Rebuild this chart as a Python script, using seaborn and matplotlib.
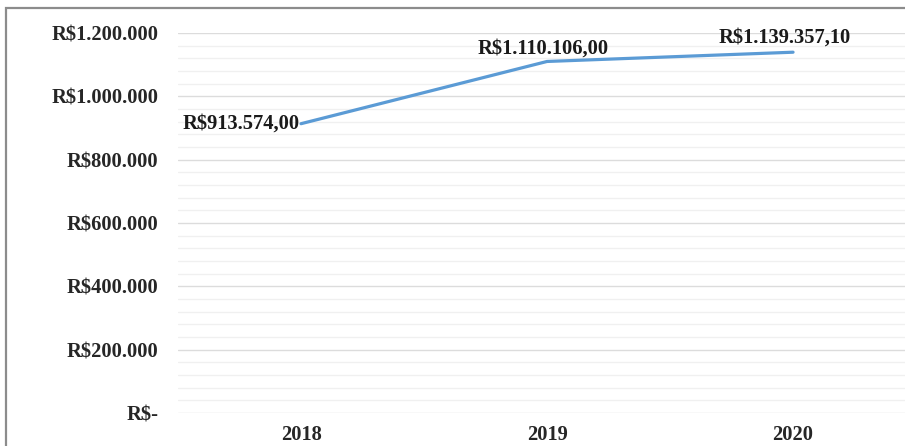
import matplotlib
matplotlib.use("Agg")
import matplotlib.pyplot as plt
from matplotlib.patches import Rectangle
from matplotlib.ticker import FuncFormatter, MultipleLocator
import pandas as pd
import seaborn as sns

# data
anos = ["2018", "2019", "2020"]
valores = [913574.00, 1110106.00, 1139357.10]

sns.set_theme(style="white")
plt.rcParams["font.family"] = ["Liberation Serif", "DejaVu Serif"]
plt.rcParams["font.weight"] = "bold"


def brl(v, decimals=0):
    s = f"{v:,.{decimals}f}"
    s = s.replace(",", "#").replace(".", ",").replace("#", ".")
    return "R$" + s


def fmt_tick(v, pos):
    if abs(v) < 1:
        return "R$-"
    return brl(v)


df = pd.DataFrame({"ano": anos, "valor": valores})

W, H = 905, 446
fig = plt.figure(figsize=(W / 100, H / 100), dpi=100)
left, right_px = 178, 905
bottom_px, top_px = 413, 33
ax = fig.add_axes([left / W, (H - bottom_px) / H, (right_px - left) / W,
                   (bottom_px - top_px) / H])

sns.lineplot(data=df, x="ano", y="valor", ax=ax, color="#5B9BD5",
             linewidth=2.3, sort=False)

ax.set_ylim(0, 1200000)
ax.set_xlim(-0.5, 2.455)
ax.yaxis.set_major_locator(MultipleLocator(200000))
ax.yaxis.set_minor_locator(MultipleLocator(40000))
ax.yaxis.set_major_formatter(FuncFormatter(fmt_tick))
ax.grid(axis="y", which="major", color="#dcdcdc", linewidth=1.0)
ax.grid(axis="y", which="minor", color="#f0f0f0", linewidth=1.0)
ax.set_axisbelow(True)
for sp in ax.spines.values():
    sp.set_visible(False)
ax.tick_params(axis="y", which="both", length=0, pad=14, labelsize=14.8)
ax.tick_params(axis="x", length=0, pad=9, labelsize=14.8)
for lab in ax.get_xticklabels() + ax.get_yticklabels():
    lab.set_fontweight("bold")
ax.set_xlabel("")
ax.set_ylabel("")

# data labels
offsets = [(-1, 0, "right", "center"), (-3, 2, "center", "bottom"),
           (-6, 3, "center", "bottom")]
for i, (v, (dx, dy, ha, va)) in enumerate(zip(valores, offsets)):
    ax.annotate(brl(v, 2), (i, v), xytext=(dx, dy), textcoords="offset points",
                ha=ha, va=va, fontsize=14.8, fontweight="bold", color="#1a1a1a")

# outer chart border (cropped at right/bottom)
fig.patches.append(Rectangle((6 / W, -0.1), 1.2, (H - 8) / H + 0.1,
                             transform=fig.transFigure, fill=False,
                             edgecolor="#8c8c8c", linewidth=1.6, clip_on=False))

fig.savefig("out.png", dpi=100)
